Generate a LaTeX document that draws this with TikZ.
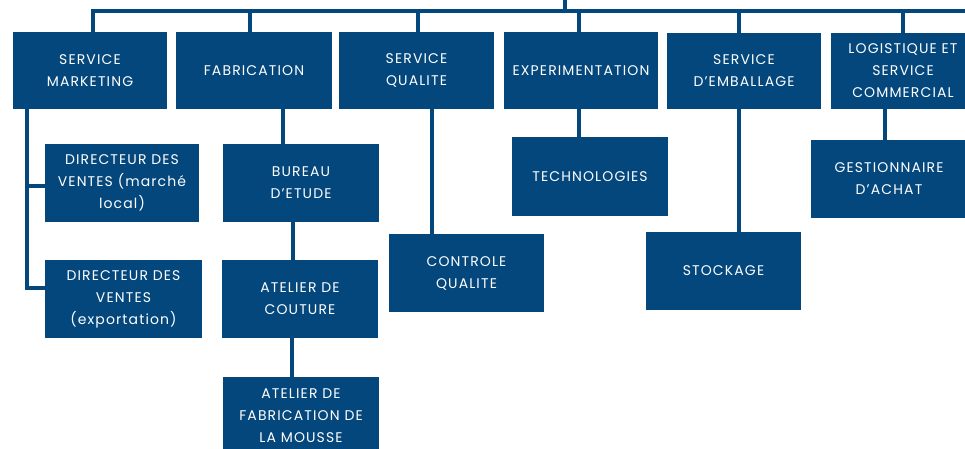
\documentclass[tikz,border=0pt]{standalone}
\usepackage{fontspec}
\setmainfont{Poppins}[LetterSpace=8]
\definecolor{navy}{RGB}{4,71,124}
\begin{document}
\begin{tikzpicture}[x=1pt,y=-1pt,
  box/.style={fill=navy, draw=none, inner sep=0pt, outer sep=0pt, anchor=north west,
    text=white, align=center, font=\fontsize{14}{22}\selectfont},
  link/.style={draw=navy, line width=3.5pt}]
\clip (0,0) rectangle (965,449);
\fill[white] (0,0) rectangle (965,449);
% row 1
\node[box, minimum width=154pt, minimum height=77pt] (sm) at (13,32) {SERVICE\\MARKETING};
\node[box, minimum width=156pt, minimum height=77pt] (fab) at (176,32) {FABRICATION};
\node[box, minimum width=155pt, minimum height=77pt] (sq) at (339,32) {SERVICE\\QUALITE};
\node[box, minimum width=154pt, minimum height=77pt] (exp) at (504,32) {EXPERIMENTATION};
\node[box, minimum width=154pt, minimum height=76pt] (emb) at (667,33) {SERVICE\\D'EMBALLAGE};
\node[box, minimum width=144pt, minimum height=76pt] (log) at (831,33) {LOGISTIQUE ET\\SERVICE\\COMMERCIAL};
% row 2
\node[box, minimum width=154pt, minimum height=78pt] (d1) at (45,144) {DIRECTEUR DES\\VENTES (marché\\local)};
\node[box, minimum width=156pt, minimum height=78pt] (bur) at (223,144) {BUREAU\\D'ETUDE};
\node[box, minimum width=156pt, minimum height=79pt] (tech) at (512,137) {TECHNOLOGIES};
\node[box, minimum width=156pt, minimum height=78pt] (gest) at (811,140) {GESTIONNAIRE\\D'ACHAT};
% row 3
\node[box, minimum width=157pt, minimum height=78pt] (d2) at (45,260) {DIRECTEUR DES\\VENTES\\(exportation)};
\node[box, minimum width=156pt, minimum height=78pt] (cou) at (222,260) {ATELIER DE\\COUTURE};
\node[box, minimum width=155pt, minimum height=78pt] (cq) at (389,234) {CONTROLE\\QUALITE};
\node[box, minimum width=155pt, minimum height=78pt] (sto) at (646,232) {STOCKAGE};
% row 4
\node[box, minimum width=156pt, minimum height=78pt] (mou) at (223,377) {ATELIER DE\\FABRICATION DE\\LA MOUSSE};
% top bar
\coordinate (top) at (565,0);
\coordinate (barR) at (970,11);
\draw[link] ([xshift=3pt]sm.north) |- (barR);
\draw[link] (top) -- (top |- barR);
\draw[link] ([xshift=-4pt]fab.north) -- ([xshift=-4pt]fab.north |- barR);
\draw[link] ([xshift=1.5pt]sq.north) -- ([xshift=1.5pt]sq.north |- barR);
\draw[link] ([xshift=-2pt]exp.north) -- ([xshift=-2pt]exp.north |- barR);
\draw[link] ([xshift=-5pt]emb.north) -- ([xshift=-5pt]emb.north |- barR);
\draw[link] (log.north) -- (log.north |- barR);
% marketing
\draw[link] ([xshift=14pt]sm.south west) |- ([yshift=-3pt]d1.west);
\draw[link] ([xshift=14pt]sm.south west) |- ([yshift=11pt]d2.west);
% fabrication
\draw[link] ([xshift=29pt]fab.south) -- ([xshift=29pt]fab.south |- bur.north);
\draw[link] ([xshift=-8pt]bur.south) -- ([xshift=-8pt]bur.south |- cou.north);
\draw[link] ([xshift=-8pt]cou.south) -- ([xshift=-8pt]cou.south |- mou.north);
% others
\draw[link] ([xshift=15.5pt]sq.south) -- ([xshift=15.5pt]sq.south |- cq.north);
\draw[link] ([xshift=-2pt]exp.south) -- ([xshift=-2pt]exp.south |- tech.north);
\draw[link] ([xshift=-5pt]emb.south) -- ([xshift=-5pt]emb.south |- sto.north);
\draw[link] ([xshift=-18pt]log.south) -- ([xshift=-18pt]log.south |- gest.north);
\end{tikzpicture}
\end{document}
